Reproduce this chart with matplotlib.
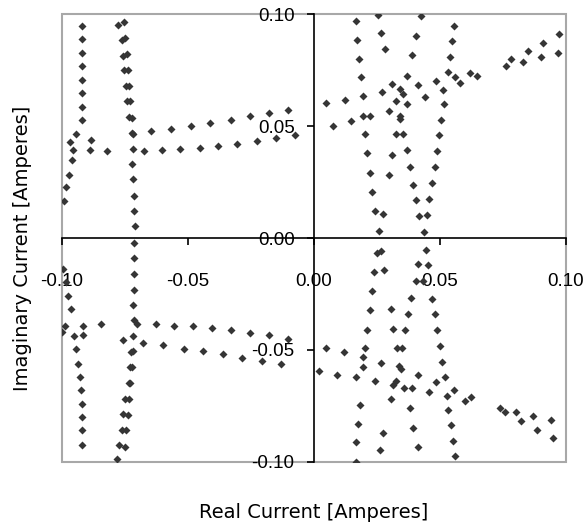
import numpy as np
import matplotlib.pyplot as plt
from matplotlib.patches import Rectangle

# (real, imaginary) current pairs, one array per quadrant
upper_left = np.array([
    (-0.0920, 0.0948), (-0.0920, 0.0890), (-0.0920, 0.0828), (-0.0920, 0.0769),
    (-0.0920, 0.0708), (-0.0920, 0.0648), (-0.0920, 0.0586), (-0.0920, 0.0526),
    (-0.0943, 0.0466),
    (-0.0969, 0.0429), (-0.0958, 0.0392), (-0.0960, 0.0347), (-0.0973, 0.0284),
    (-0.0983, 0.0228), (-0.0993, 0.0165), (-0.0887, 0.0439), (-0.0890, 0.0392),
    (-0.0821, 0.0387),
    (-0.0777, 0.0954), (-0.0755, 0.0966), (-0.0764, 0.0887), (-0.0751, 0.0894),
    (-0.0759, 0.0814), (-0.0744, 0.0824), (-0.0755, 0.0749), (-0.0739, 0.0749),
    (-0.0748, 0.0679), (-0.0734, 0.0679), (-0.0742, 0.0611), (-0.0729, 0.0611),
    (-0.0735, 0.0541), (-0.0722, 0.0538), (-0.0724, 0.0469), (-0.0719, 0.0463),
    (-0.0718, 0.0398), (-0.0722, 0.0332), (-0.0719, 0.0262), (-0.0715, 0.0188),
    (-0.0714, 0.0119), (-0.0712, 0.0052),
    (-0.0646, 0.0477), (-0.0569, 0.0489), (-0.0490, 0.0502), (-0.0411, 0.0515),
    (-0.0331, 0.0529), (-0.0254, 0.0545), (-0.0179, 0.0559), (-0.0102, 0.0574),
    (-0.0675, 0.0387), (-0.0603, 0.0392), (-0.0530, 0.0396), (-0.0453, 0.0402),
    (-0.0380, 0.0410), (-0.0305, 0.0420), (-0.0228, 0.0435), (-0.0150, 0.0445),
    (-0.0074, 0.0462),
])

upper_right = np.array([
    (0.0166, 0.0968), (0.0254, 0.0995), (0.0424, 0.0991), (0.0556, 0.0949),
    (0.0172, 0.0883), (0.0267, 0.0918), (0.0407, 0.0903), (0.0548, 0.0879),
    (0.0179, 0.0802), (0.0282, 0.0843), (0.0388, 0.0816), (0.0540, 0.0809),
    (0.0185, 0.0720), (0.0371, 0.0724), (0.0534, 0.0742), (0.0560, 0.0720),
    (0.0580, 0.0693), (0.0620, 0.0738), (0.0649, 0.0724),
    (0.0311, 0.0690), (0.0413, 0.0682), (0.0483, 0.0700),
    (0.0196, 0.0635), (0.0270, 0.0653), (0.0340, 0.0667), (0.0355, 0.0642),
    (0.0514, 0.0660), (0.0440, 0.0630),
    (0.0046, 0.0603), (0.0122, 0.0618), (0.0327, 0.0612), (0.0368, 0.0600),
    (0.0516, 0.0600),
    (0.0298, 0.0570), (0.0196, 0.0545), (0.0222, 0.0545), (0.0340, 0.0545),
    (0.0342, 0.0533), (0.0506, 0.0529),
    (0.0077, 0.0499), (0.0148, 0.0523),
    (0.0203, 0.0463), (0.0325, 0.0463), (0.0355, 0.0463), (0.0498, 0.0462),
    (0.0212, 0.0380), (0.0311, 0.0372), (0.0368, 0.0392), (0.0490, 0.0389),
    (0.0222, 0.0292), (0.0298, 0.0284), (0.0381, 0.0317), (0.0481, 0.0317),
    (0.0232, 0.0206), (0.0392, 0.0238), (0.0468, 0.0247),
    (0.0242, 0.0121), (0.0274, 0.0109), (0.0407, 0.0168), (0.0458, 0.0173),
    (0.0258, 0.0030), (0.0418, 0.0097), (0.0448, 0.0104), (0.0437, 0.0028),
    (0.0764, 0.0769), (0.0784, 0.0798), (0.0832, 0.0787), (0.0850, 0.0834),
    (0.0901, 0.0809), (0.0910, 0.0873), (0.0969, 0.0827), (0.0975, 0.0913),
])

lower_left = np.array([
    (-0.0715, -0.0022), (-0.0715, -0.0089), (-0.0715, -0.0160), (-0.0715, -0.0231),
    (-0.0719, -0.0301), (-0.0715, -0.0364), (-0.0702, -0.0386), (-0.0719, -0.0438),
    (-0.0758, -0.0455), (-0.0726, -0.0510), (-0.0719, -0.0505), (-0.0729, -0.0577),
    (-0.0722, -0.0577), (-0.0735, -0.0647), (-0.0729, -0.0647), (-0.0751, -0.0718),
    (-0.0735, -0.0718), (-0.0758, -0.0785), (-0.0739, -0.0790), (-0.0764, -0.0857),
    (-0.0748, -0.0860), (-0.0775, -0.0924), (-0.0751, -0.0934), (-0.0781, -0.0987),
    (-0.0996, -0.0137), (-0.0983, -0.0197), (-0.0976, -0.0257), (-0.0963, -0.0319),
    (-0.0987, -0.0393), (-0.1000, -0.0418), (-0.0916, -0.0391), (-0.0847, -0.0386),
    (-0.0951, -0.0438), (-0.0916, -0.0432), (-0.0943, -0.0498), (-0.0938, -0.0562),
    (-0.0930, -0.0621), (-0.0925, -0.0681), (-0.0920, -0.0741), (-0.0920, -0.0800),
    (-0.0920, -0.0860), (-0.0920, -0.0924),
    (-0.0629, -0.0386), (-0.0556, -0.0391), (-0.0479, -0.0395), (-0.0404, -0.0402),
    (-0.0331, -0.0413), (-0.0254, -0.0425), (-0.0179, -0.0435), (-0.0102, -0.0450),
    (-0.0678, -0.0468), (-0.0599, -0.0480), (-0.0516, -0.0495), (-0.0440, -0.0507),
    (-0.0363, -0.0520), (-0.0285, -0.0534), (-0.0207, -0.0550), (-0.0130, -0.0562),
])

lower_right = np.array([
    (0.0249, -0.0067), (0.0267, -0.0058), (0.0444, -0.0055),
    (0.0238, -0.0152), (0.0278, -0.0142), (0.0413, -0.0115), (0.0453, -0.0122),
    (0.0404, -0.0192), (0.0434, -0.0192),
    (0.0232, -0.0237), (0.0387, -0.0267), (0.0470, -0.0271),
    (0.0222, -0.0321), (0.0305, -0.0316), (0.0375, -0.0341), (0.0481, -0.0341),
    (0.0212, -0.0410), (0.0315, -0.0405), (0.0362, -0.0413), (0.0490, -0.0410),
    (0.0203, -0.0492), (0.0329, -0.0490), (0.0348, -0.0490), (0.0501, -0.0483),
    (0.0046, -0.0490), (0.0119, -0.0510), (0.0196, -0.0532), (0.0267, -0.0559),
    (0.0338, -0.0570), (0.0344, -0.0584), (0.0510, -0.0554),
    (0.0020, -0.0592), (0.0093, -0.0610), (0.0166, -0.0621), (0.0196, -0.0577),
    (0.0241, -0.0641), (0.0315, -0.0656), (0.0325, -0.0641), (0.0413, -0.0614),
    (0.0483, -0.0644), (0.0519, -0.0621),
    (0.0358, -0.0671), (0.0388, -0.0671), (0.0457, -0.0688), (0.0527, -0.0708),
    (0.0556, -0.0678), (0.0600, -0.0726), (0.0622, -0.0711),
    (0.0307, -0.0718), (0.0183, -0.0748), (0.0381, -0.0759), (0.0534, -0.0768),
    (0.0175, -0.0830), (0.0395, -0.0848), (0.0543, -0.0835),
    (0.0168, -0.0912), (0.0275, -0.0870), (0.0414, -0.0934), (0.0553, -0.0905),
    (0.0262, -0.0946), (0.0560, -0.0976), (0.0166, -0.0999),
    (0.0739, -0.0759), (0.0758, -0.0778), (0.0804, -0.0778), (0.0821, -0.0818),
    (0.0871, -0.0796), (0.0887, -0.0856), (0.0940, -0.0815), (0.0951, -0.0894),
])

ticks = [-0.10, -0.05, 0.00, 0.05, 0.10]
tick_labels = ['-0.10', '-0.05', '0.00', '0.05', '0.10']

plt.rcParams['font.family'] = ['Liberation Sans', 'DejaVu Sans']

fig = plt.figure(figsize=(5.86, 5.29), dpi=100)
ax = fig.add_axes([0.106, 0.127, 0.8595, 0.846])

for pts in (upper_left, upper_right, lower_left, lower_right):
    ax.plot(pts[:, 0], pts[:, 1], 'D', color='#353535', ms=4.4, mec='none')

ax.set_xlim(-0.1, 0.1)
ax.set_ylim(-0.1, 0.1)

# axes cross at the origin, grey frame round the plot area
ax.spines['left'].set_position(('data', 0))
ax.spines['bottom'].set_position(('data', 0))
ax.spines['top'].set_visible(False)
ax.spines['right'].set_visible(False)
for s in ('left', 'bottom'):
    ax.spines[s].set_linewidth(1.2)
ax.add_patch(Rectangle((0, 0), 1, 1, transform=ax.transAxes, fill=False,
                       ec='#a8a8a8', lw=1.5, clip_on=False, zorder=0))

ax.set_xticks(ticks)
ax.set_xticklabels(tick_labels)
ax.set_yticks(ticks)
ax.set_yticklabels(tick_labels)
ax.tick_params(axis='x', direction='out', length=5, width=1.2, pad=20, labelsize=13.5)
ax.tick_params(axis='y', direction='out', length=5, width=1.2, pad=9, labelsize=13.5)

ax.set_xlabel('Real Current [Amperes]', fontsize=14, family='DejaVu Sans')
ax.set_ylabel('Imaginary Current [Amperes]', fontsize=14, family='DejaVu Sans')
ax.xaxis.set_label_coords(0.5, -0.092)
ax.yaxis.set_label_coords(-0.06, 0.478)

fig.savefig('out.png', dpi=100)
